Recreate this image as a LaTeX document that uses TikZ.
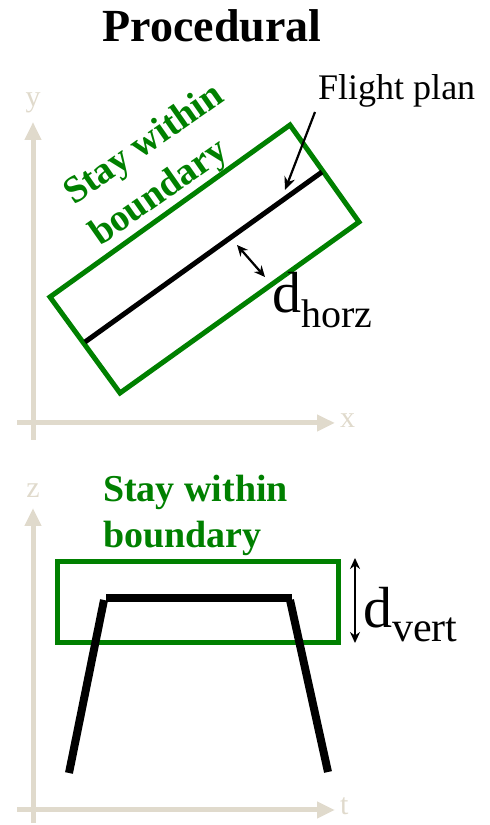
\documentclass[tikz,border=0pt]{standalone}
\usepackage{fontspec}
\setmainfont{Liberation Serif}
\usetikzlibrary{arrows.meta}
\definecolor{bgreen}{RGB}{0,128,0}
\definecolor{axisc}{RGB}{224,218,204}
\tikzset{
  axisline/.style={draw=axisc, line width=5pt, -{Triangle[width=16pt,length=18pt]}},
  axislabel/.style={text=axisc, font=\fontsize{30}{32}\selectfont, inner sep=0pt},
  boundary/.style={draw=bgreen, line width=5pt, line join=miter},
  greentext/.style={text=bgreen, font=\fontsize{38}{40}\selectfont\bfseries, inner sep=0pt},
  plainlabel/.style={font=\fontsize{36}{38}\selectfont, inner sep=0pt},
  dlabel/.style={inner sep=0pt},
  dim/.style={draw=black, line width=2.2pt, {Stealth[length=11pt,width=10pt]}-{Stealth[length=11pt,width=10pt]}},
}
\begin{document}
\begin{tikzpicture}[x=1pt,y=1pt]
\useasboundingbox (0,0) rectangle (490,825);
% title
\node[inner sep=0pt, anchor=base, font=\fontsize{46}{48}\selectfont\bfseries] (title) at (212,783) {Procedural};

% ---------- top panel ----------
\coordinate (yo) at (33,385);
\coordinate (ytip) at (33,703);
\coordinate (xo) at (17,402);
\coordinate (xtip) at (335,402);
\draw[axisline] (yo) -- (ytip);
\draw[axisline] (xo) -- (xtip);
\node[axislabel, anchor=base] (ylab) at (33,718) {y};
\node[axislabel, anchor=base west] (xlab) at (340,397) {x};

\coordinate (b1) at (290,700);
\coordinate (b2) at (359,603);
\coordinate (b3) at (120,432);
\coordinate (b4) at (50,528);
\draw[boundary] (b1) -- (b2) -- (b3) -- (b4) -- cycle;

\coordinate (fp1) at (85,483);
\coordinate (fp2) at (322,653);
\draw[line width=5pt] (fp1) -- (fp2);

\node[greentext, rotate=35, anchor=base] (stay1) at (150,672) {Stay within};
\node[greentext, rotate=35, anchor=base] (bound1) at (165,624) {boundary};

\node[plainlabel, anchor=base west] (fplab) at (318,725) {Flight plan};
\coordinate (fpfrom) at (315,713);
\coordinate (fpto) at (285,635);
\draw[line width=2.2pt, -{Stealth[length=13pt,width=11pt]}] (fpfrom) -- (fpto);

\coordinate (dh1) at (237,580);
\coordinate (dh2) at (265,548);
\draw[dim] (dh1) -- (dh2);
\node[dlabel, anchor=base west] (dhorz) at (272,512)
  {\fontsize{58}{60}\selectfont d\raisebox{-15pt}{\fontsize{40}{42}\selectfont horz}};

% ---------- bottom panel ----------
\coordinate (zo) at (33,2);
\coordinate (ztip) at (33,317);
\coordinate (to) at (17,15);
\coordinate (ttip) at (335,15);
\draw[axisline] (zo) -- (ztip);
\draw[axisline] (to) -- (ttip);
\node[axislabel, anchor=base] (zlab) at (33,327) {z};
\node[axislabel, anchor=base west] (tlab) at (340,10) {t};

\node[greentext, anchor=base west] (stay2) at (103,323) {Stay within};
\node[greentext, anchor=base west] (bound2) at (103,277) {boundary};

\coordinate (r1) at (57,263);
\coordinate (r2) at (338,182);
\draw[boundary] (r1) rectangle (r2);

\coordinate (p1) at (69,52);
\coordinate (p2) at (104,225);
\coordinate (p3) at (106,227);
\coordinate (p4) at (292,227);
\coordinate (p5) at (290,225);
\coordinate (p6) at (328,53);
\draw[line width=8pt] (p1) -- (p2);
\draw[line width=8pt] (p3) -- (p4);
\draw[line width=8pt] (p5) -- (p6);

\coordinate (dv1) at (355,267);
\coordinate (dv2) at (355,182);
\draw[dim] (dv1) -- (dv2);
\node[dlabel, anchor=base west] (dvert) at (363,197)
  {\fontsize{58}{60}\selectfont d\raisebox{-14pt}{\fontsize{42}{44}\selectfont vert}};
\end{tikzpicture}
\end{document}
